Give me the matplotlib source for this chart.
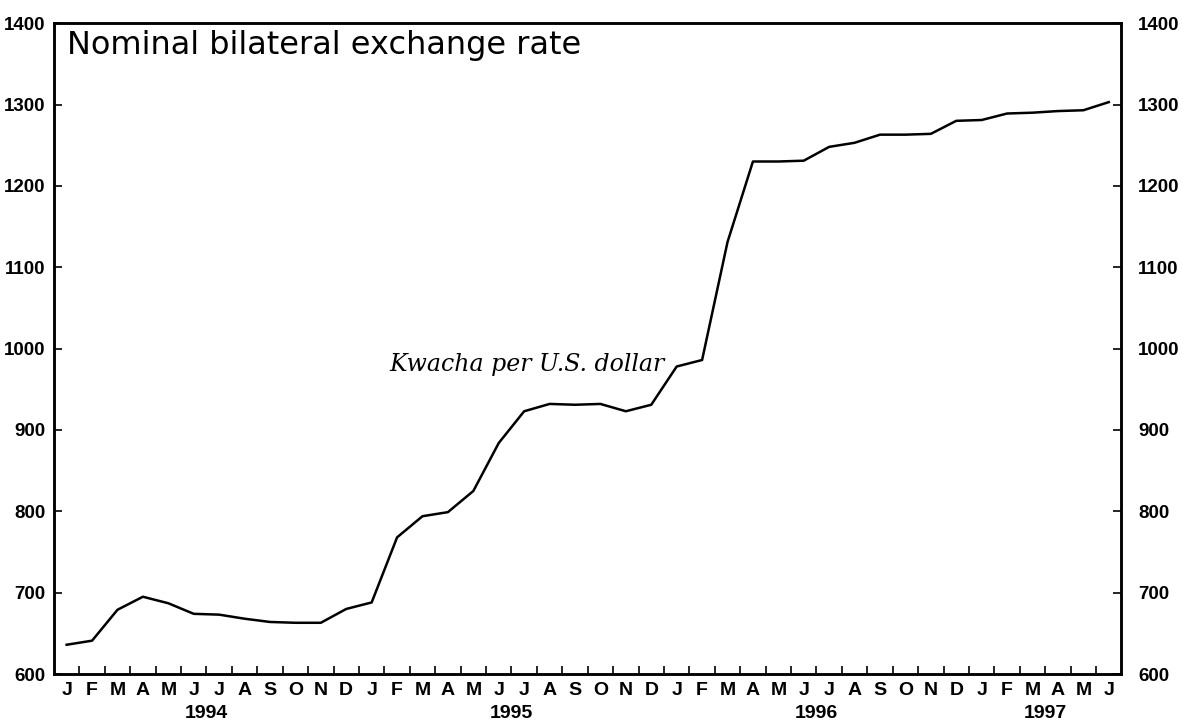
import matplotlib.pyplot as plt
import numpy as np

# monthly data, Jan 1994 - Jun 1997
months = ['J', 'F', 'M', 'A', 'M', 'J', 'J', 'A', 'S', 'O', 'N', 'D'] * 3 + ['J', 'F', 'M', 'A', 'M', 'J']
years = ['1994', '1995', '1996', '1997']
year_centers = [5.5, 17.5, 29.5, 38.5]
kwacha = [636, 641, 679, 695, 687, 674, 673, 668, 664, 663, 663, 680,
          688, 768, 794, 799, 825, 884, 923, 932, 931, 932, 923, 931,
          978, 986, 1131, 1230, 1230, 1231, 1248, 1253, 1263, 1263, 1264, 1280,
          1281, 1289, 1290, 1292, 1293, 1303]
yticks = [600, 700, 800, 900, 1000, 1100, 1200, 1300, 1400]

x = np.arange(len(kwacha))

fig = plt.figure(figsize=(11.83, 7.25), dpi=100)
ax = fig.add_axes([0.0456, 0.0703, 0.9024, 0.8977])
ax.plot(x, kwacha, color='black', lw=1.8)

ax.set_xlim(-0.5, len(kwacha) - 0.5)
ax.set_ylim(600, 1400)

# ticks at month boundaries, labels centred on the months
ax.set_xticks(np.arange(len(kwacha) - 1) + 0.5)
ax.set_xticklabels([])
ax.tick_params(axis='x', direction='in', length=6, width=1.2)
for i, m in enumerate(months):
    ax.text(i, -0.012, m, transform=ax.get_xaxis_transform(), ha='center', va='top',
            fontsize=14, fontweight='bold', family='Liberation Sans')
for yc, yr in zip(year_centers, years):
    ax.text(yc, -0.047, yr, transform=ax.get_xaxis_transform(), ha='center', va='top',
            fontsize=14, fontweight='bold', family='Liberation Sans')

ax.set_yticks(yticks)
ax.set_yticklabels([str(v) for v in yticks], fontsize=13.5, fontweight='bold', family='Liberation Sans')
ax.tick_params(axis='y', direction='in', length=6, width=1.2, pad=6)

ax2 = ax.twinx()
ax2.set_ylim(600, 1400)
ax2.set_yticks(yticks)
ax2.set_yticklabels([str(v) for v in yticks], fontsize=13.5, fontweight='bold', family='Liberation Sans')
ax2.tick_params(axis='y', direction='in', length=6, width=1.2, pad=12)

for a in (ax, ax2):
    for s in a.spines.values():
        s.set_linewidth(1.8)

ax.text(0.012, 0.952, 'Nominal bilateral exchange rate', transform=ax.transAxes,
        ha='left', va='baseline', fontsize=23, family='DejaVu Sans')
ax.text(12.7, 981, 'Kwacha per U.S. dollar', ha='left', va='center',
        fontsize=17, style='italic', family='DejaVu Serif')

plt.savefig('out.png', dpi=100)
